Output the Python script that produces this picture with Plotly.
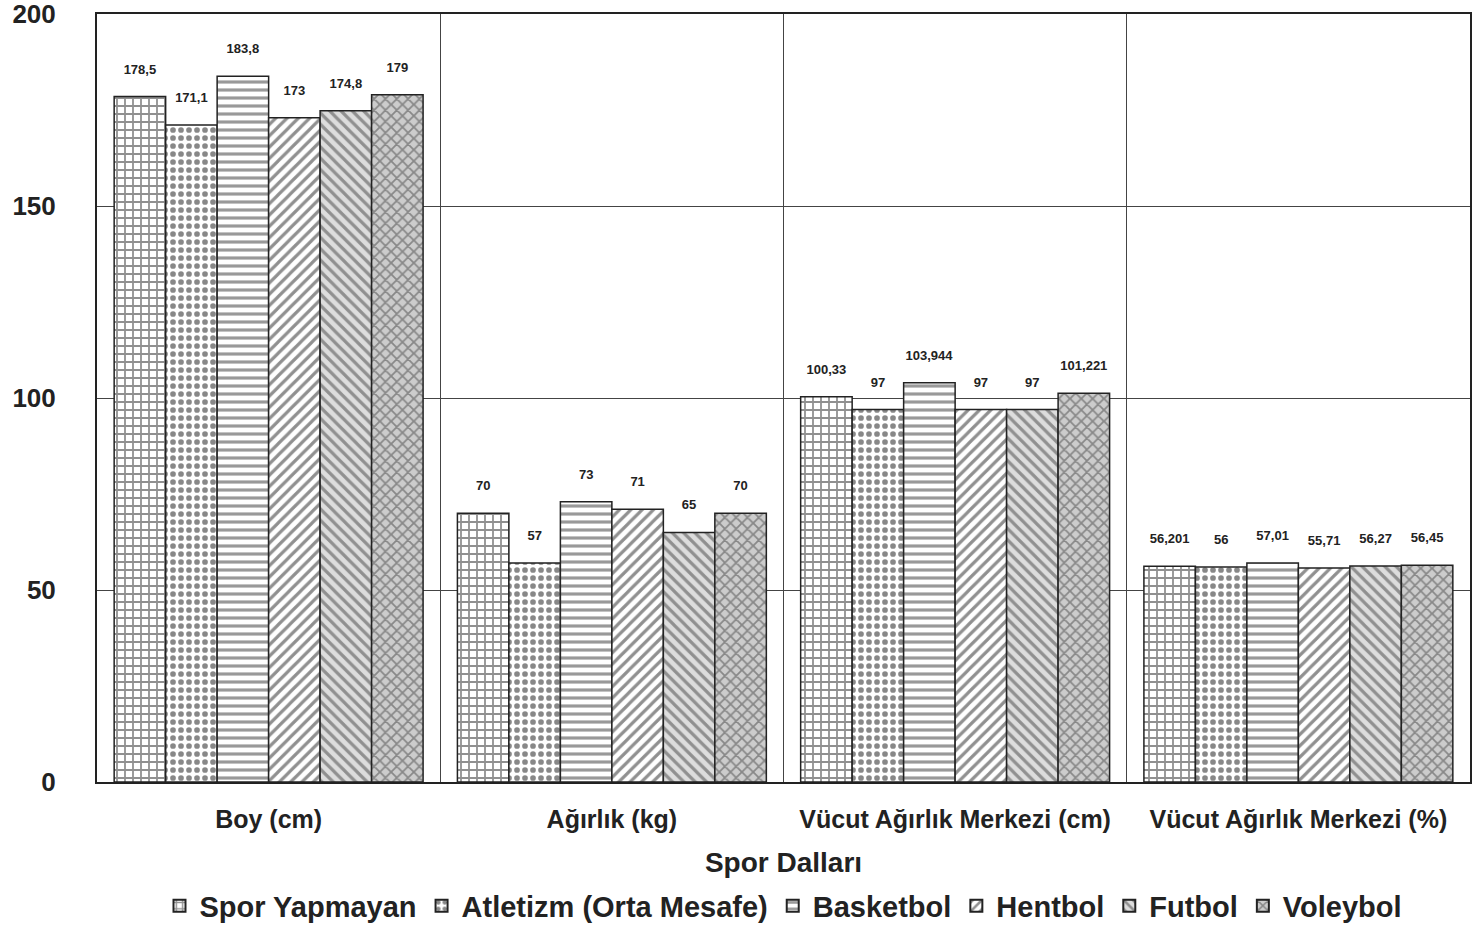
import plotly.graph_objects as go

categories = ["Boy (cm)", "Ağırlık (kg)", "Vücut Ağırlık Merkezi (cm)", "Vücut Ağırlık Merkezi (%)"]
series_names = ["Spor Yapmayan", "Atletizm (Orta Mesafe)", "Basketbol", "Hentbol", "Futbol", "Voleybol"]
spor_yapmayan = [178.5, 70, 100.33, 56.201]
atletizm = [171.1, 57, 97, 56]
basketbol = [183.8, 73, 103.944, 57.01]
hentbol = [173, 71, 97, 55.71]
futbol = [174.8, 65, 97, 56.27]
voleybol = [179, 70, 101.221, 56.45]
y_ticks = [0, 50, 100, 150, 200]

values = [spor_yapmayan, atletizm, basketbol, hentbol, futbol, voleybol]
patterns = ["+", ".", "-", "/", "\\", "x"]
fgcolors = ["#222", "#111", "#333", "#222", "#444", "#444"]
bgcolors = ["white", "white", "white", "white", "#dddddd", "#cccccc"]


def fmt(v):
    s = ("%.3f" % v).rstrip("0").rstrip(".")
    return s.replace(".", ",")


fig = go.Figure()
for name, vals, pat, fg, bg in zip(series_names, values, patterns, fgcolors, bgcolors):
    fig.add_trace(go.Bar(
        name=name, x=categories, y=vals,
        text=[fmt(v) + "<br>&nbsp;" for v in vals], textposition="outside",
        textfont=dict(size=13, family="Liberation Sans, Arial", color="#222", weight="bold"),
        cliponaxis=False,
        marker=dict(color=bg, line=dict(color="#222", width=1.5),
                    pattern=dict(shape=pat, fgcolor=fg, bgcolor=bg, size=8, solidity=0.4)),
    ))

fig.update_layout(
    width=1473, height=925,
    barmode="group", bargap=0.1, bargroupgap=0,
    plot_bgcolor="white", paper_bgcolor="white",
    margin=dict(l=97, r=3, t=14, b=143, autoexpand=False),
    font=dict(family="Liberation Sans, Arial", color="#222"),
    uniformtext=dict(minsize=10, mode="show"),
    legend=dict(orientation="h", x=0.5, xanchor="center", xref="paper",
                y=-0.128, yanchor="top", yref="paper",
                font=dict(size=29, family="Liberation Sans, Arial", color="#222", weight="bold"),
                itemwidth=30, tracegroupgap=0, itemsizing="constant"),
)
fig.update_xaxes(
    tickson="boundaries", showgrid=True, gridcolor="#444", gridwidth=1,
    showline=True, linecolor="#222", linewidth=2, mirror=True,
    ticks="", ticklabelstandoff=14, automargin=False,
    tickfont=dict(size=25, weight="bold", color="#222"),
    title=dict(text="Spor Dalları", font=dict(size=28, weight="bold", color="#222"), standoff=20),
)
fig.update_yaxes(
    range=[0, 200], tickvals=y_ticks, showgrid=True, gridcolor="#444", gridwidth=1,
    showline=True, linecolor="#222", linewidth=2, mirror=True,
    ticks="", ticklabelstandoff=34, zeroline=False, automargin=False,
    ticklabeloverflow="allow",
    tickfont=dict(size=26, weight="bold", color="#222"),
)
fig.write_html("out.html", config={"displayModeBar": False},
               post_script="document.body.style.margin='0px';")
